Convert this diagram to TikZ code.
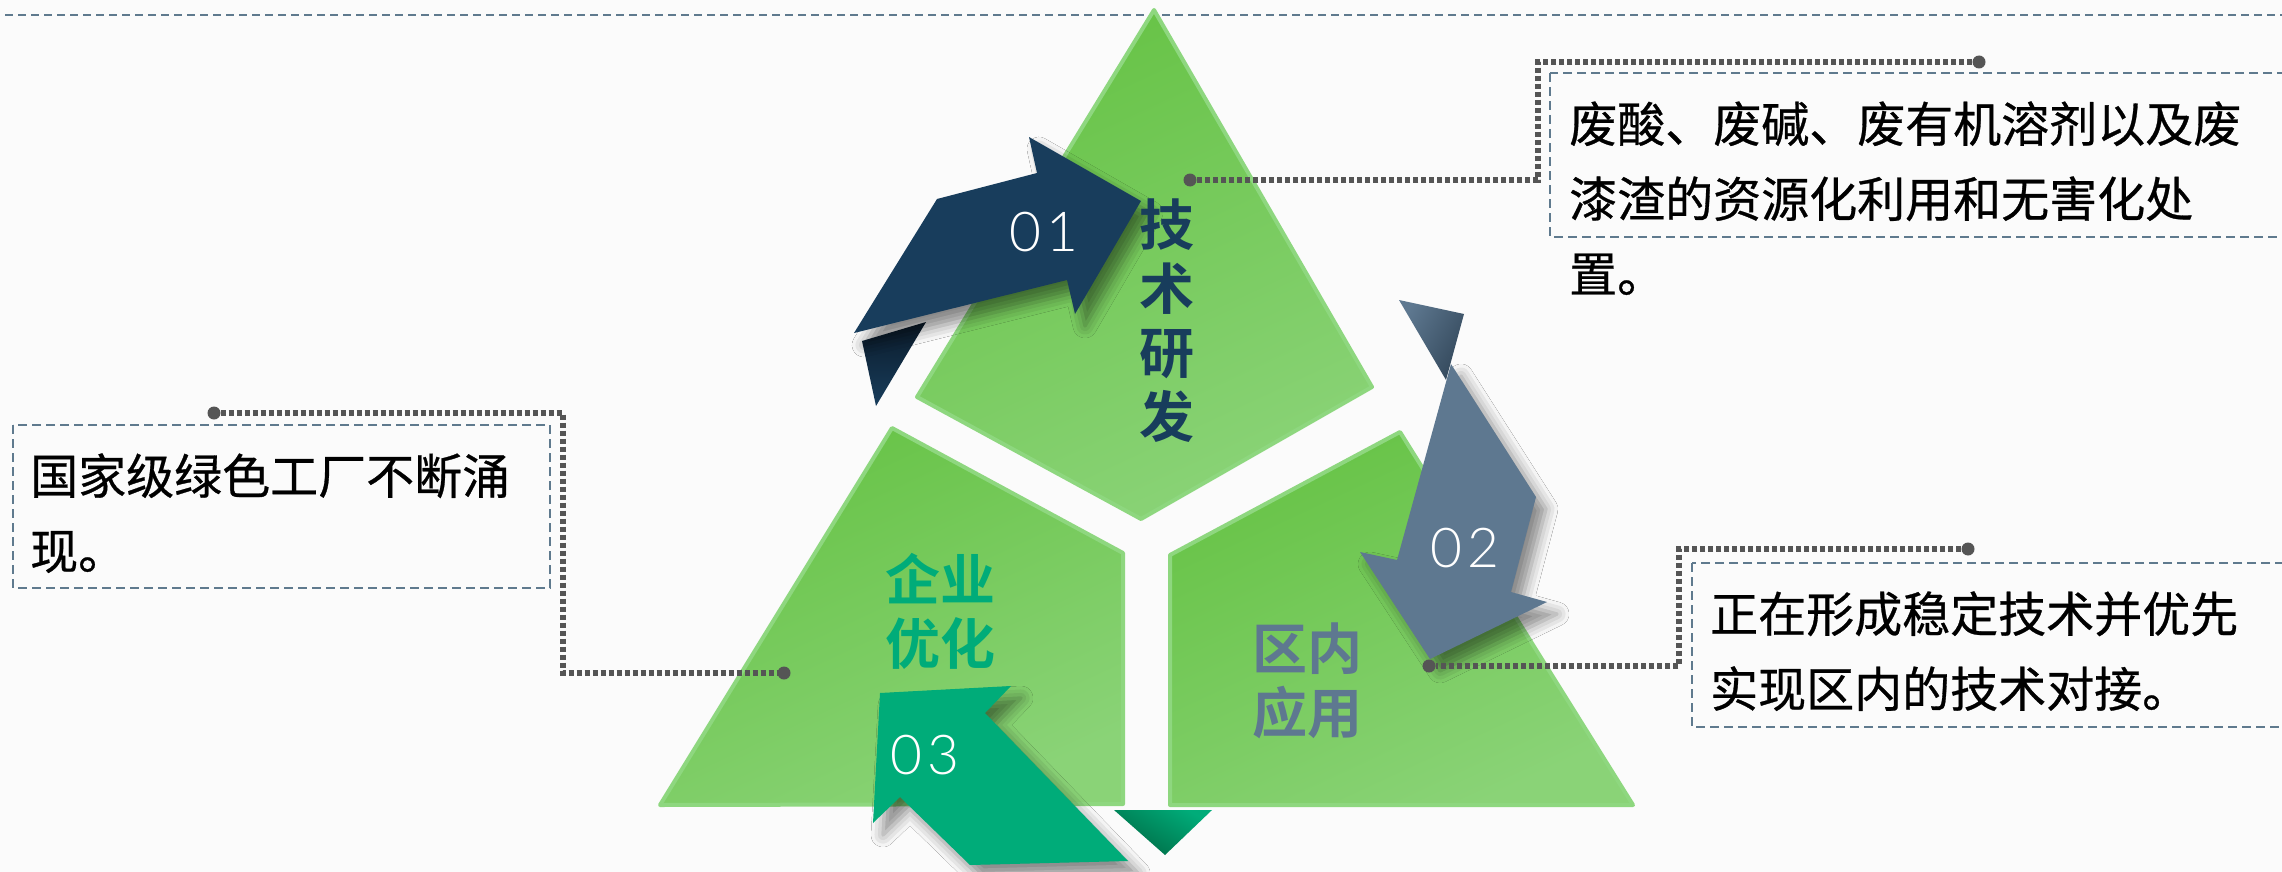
\documentclass[tikz,border=0pt]{standalone}
\usepackage{fontspec}
\usetikzlibrary{shadows}
\IfFileExists{tikzlibraryshadows.blur.code.tex}{\usetikzlibrary{shadows.blur}\def\hasblur{1}}{\def\hasblur{0}}
\newfontfamily\cjk{Noto Sans CJK SC}[FakeBold=0.6]
\IfFontExistsTF{Noto Sans CJK SC Bold}{\newfontfamily\cjkb{Noto Sans CJK SC Bold}}{\newfontfamily\cjkb{Noto Sans CJK SC}[FakeBold=3]}
\IfFontExistsTF{Lato Light}{\newfontfamily\thinf{Lato Light}}{\newfontfamily\thinf{Lato}}
\definecolor{bgc}{HTML}{FBFBFB}
\definecolor{cNavy}{HTML}{183D5C}
\definecolor{cNavyD}{HTML}{0B1B2A}
\definecolor{cSlate}{HTML}{5E7890}
\definecolor{cSlateD}{HTML}{34495C}
\definecolor{cTeal}{HTML}{00AC79}
\definecolor{cTealD}{HTML}{006B45}
\definecolor{gtop}{HTML}{67C346}
\definecolor{gbot}{HTML}{8AD377}
\definecolor{gedge}{HTML}{8ED77F}
\definecolor{dotc}{HTML}{555555}
\definecolor{dashc}{HTML}{5F7A8E}
\ifnum\hasblur=1
\tikzset{ashadow/.style={blur shadow={shadow xshift=10pt, shadow yshift=-12pt, shadow blur radius=12pt, shadow opacity=45}}}
\else
\tikzset{ashadow/.style={drop shadow={shadow xshift=8pt, shadow yshift=-10pt, opacity=0.25}}}
\fi
\tikzset{
  gshape/.style={draw=gedge, line width=4pt, line join=round, top color=gtop, bottom color=gbot, shading angle=25},
  dotline/.style={draw=dotc, line width=5.5pt, dash pattern=on 5pt off 3pt},
  dashbox/.style={draw=dashc, line width=2pt, dash pattern=on 9pt off 5pt},
  endpt/.style={circle, fill=dotc, inner sep=0pt, minimum size=13pt},
  bodytext/.style={font=\cjk\fontsize{48}{75}\selectfont, anchor=base west, inner sep=0pt, text=black},
  titletext/.style={font=\cjkb\fontsize{55}{64}\selectfont, align=center, inner sep=0pt},
  numtext/.style={font=\thinf\fontsize{55}{60}\selectfont, text=white, inner sep=0pt},
}
\begin{document}
\begin{tikzpicture}[x=1pt,y=-1pt]
\useasboundingbox (0,0) rectangle (2282,872);
\fill[bgc] (0,0) rectangle (2282,872);
\draw[dashc, line width=2pt, dash pattern=on 8pt off 5pt] (5,15) -- (2282,15);

% green segments
\path[gshape] (1154,10) -- (1372,387) -- (1141,519) -- (917,397) -- cycle;
\path[gshape] (892,428) -- (1123,553) -- (1123,804) -- (660,805) -- cycle;
\path[gshape] (1170,555) -- (1400,432) -- (1633,805) -- (1170,805) -- cycle;

% bottom fold
\path[top color=cTeal, bottom color=cTealD, shading angle=-30] (1114,810) -- (1212,810) -- (1165,855) -- cycle;

% arrow 01
\path[top color=cNavyD, bottom color=cNavy] (862,341) -- (926,322) -- (876,406) -- cycle;
\path[fill=cNavy, ashadow] (854,333) -- (937,199) -- (1037,173) -- (1029,137) -- (1141,201) -- (1075,314) -- (1067,280) -- cycle;

% arrow 02
\path[left color=cSlate, right color=cSlateD, shading angle=60] (1399,300) -- (1464,314) -- (1446,380) -- cycle;
\path[fill=cSlate, ashadow] (1451,364) -- (1536,497) -- (1511,592) -- (1547,602) -- (1430,659) -- (1360,552) -- (1397,560) -- cycle;

% arrow 03
\path[fill=cTeal, ashadow] (880,693) -- (1011,686) -- (985,713) -- (1128,861) -- (970,865) -- (900,797) -- (873,823) -- cycle;

% numbers
\node[numtext] (n1) at (1044,232) {0\kern5pt 1};
\node[numtext] (n2) at (1465,548) {0\kern5pt 2};
\node[numtext] (n3) at (925,755) {0\kern5pt 3};

% titles
\node[titletext, text=cNavy] (t1) at (1167,321) {技\\术\\研\\发};
\node[titletext, text=cTeal] (t3) at (940,611) {企业\\优化};
\node[titletext, text=cSlate] (t2) at (1307,681) {区内\\应用};

% boxes
\draw[dashbox] (13,425) rectangle (550,588);
\draw[dashbox] (1550,73) rectangle (2300,237);
\draw[dashbox] (1692,563) rectangle (2300,727);

% texts
\node[bodytext] (a1) at (1569,142) {废酸、废碱、废有机溶剂以及废};
\node[bodytext] (a2) at (1569,217) {漆渣的资源化利用和无害化处};
\node[bodytext] (a3) at (1569,292) {置。};
\node[bodytext] (b1) at (30,494) {国家级绿色工厂不断涌};
\node[bodytext] (b2) at (30,569) {现。};
\node[bodytext] (c1) at (1710,632) {正在形成稳定技术并优先};
\node[bodytext] (c2) at (1710,707) {实现区内的技术对接。};

% connectors
\node[endpt] (p1a) at (1979,62) {};
\node[endpt] (p1b) at (1190,180) {};
\coordinate (k1a) at (1538,62);
\coordinate (k1b) at (1538,180);
\draw[dotline] (p1a) -- (k1a) -- (k1b) -- (p1b);

\node[endpt] (p2a) at (214,413) {};
\node[endpt] (p2b) at (784,673) {};
\coordinate (k2a) at (563,413);
\coordinate (k2b) at (563,673);
\draw[dotline] (p2a) -- (k2a) -- (k2b) -- (p2b);

\node[endpt] (p3a) at (1968,549) {};
\node[endpt] (p3b) at (1429,666) {};
\coordinate (k3a) at (1679,549);
\coordinate (k3b) at (1679,666);
\draw[dotline] (p3a) -- (k3a) -- (k3b) -- (p3b);
\end{tikzpicture}
\end{document}
